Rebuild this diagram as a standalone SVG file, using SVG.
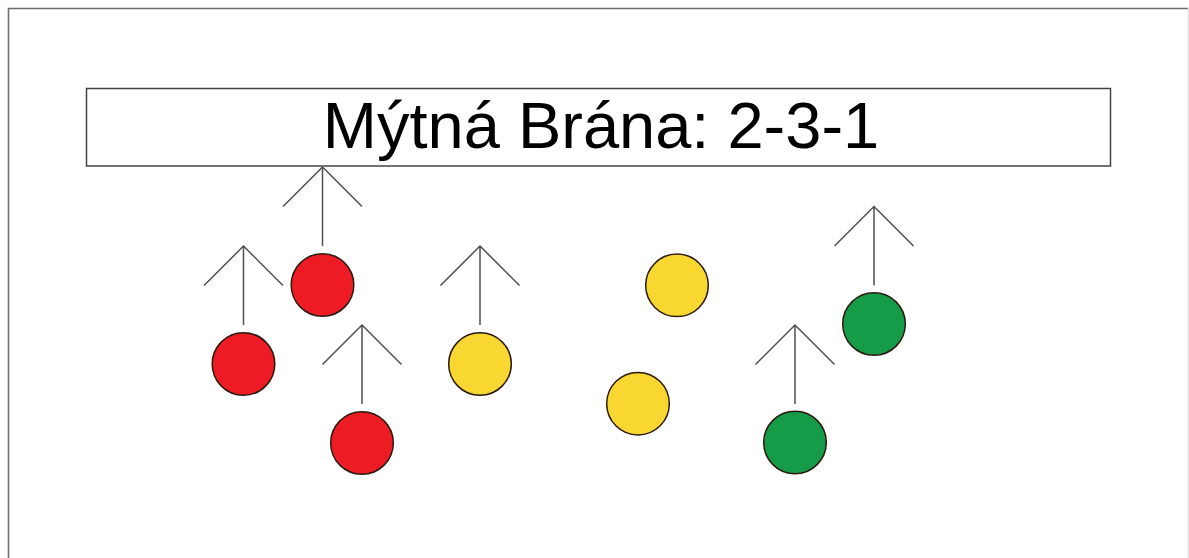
<svg xmlns="http://www.w3.org/2000/svg" width="1189" height="558" viewBox="0 0 1189 558">
<defs>
<style>
.frame{fill:none;stroke:#6e6e6e;stroke-width:1.6}
.title{fill:#fff;stroke:#444;stroke-width:1.5}
.t{font-family:"Liberation Sans",Arial,sans-serif;font-size:65px;fill:#000}
.arr{fill:none;stroke:#505050;stroke-width:1.5}
.c{stroke:#2a1a10;stroke-width:1.5}
.red{fill:#ED1C24}
.yel{fill:#F8D731}
.grn{fill:#169B48}
</style>
<path id="a" class="arr" d="M0,0 V79 M-39.5,39.5 L0,0 L39.5,39.5"/>
</defs>
<rect width="1189" height="558" fill="#fff"/>
<path class="frame" d="M8.5,560 V8.5 H1188"/>
<line x1="1188.3" y1="9" x2="1188.3" y2="558" stroke="#d8d8d8" stroke-width="1"/>
<g id="title">
<rect class="title" x="86.5" y="88.5" width="1024" height="77.5"/>
<text class="t" x="601" y="148" text-anchor="middle">Mýtná Brána: 2-3-1</text>
</g>
<g id="connectors">
<use href="#a" x="322.5" y="167"/>
<use href="#a" x="243.5" y="246"/>
<use href="#a" x="362" y="325"/>
<use href="#a" x="480" y="246"/>
<use href="#a" x="874" y="206.5"/>
<use href="#a" x="795" y="325"/>
</g>
<g id="red1"><circle class="c red" cx="322.5" cy="285" r="31.3"/></g>
<g id="red2"><circle class="c red" cx="243.5" cy="364" r="31.3"/></g>
<g id="red3"><circle class="c red" cx="362" cy="443" r="31.3"/></g>
<g id="yellow1"><circle class="c yel" cx="480" cy="364" r="31.3"/></g>
<g id="yellow2"><circle class="c yel" cx="677" cy="285.3" r="31.3"/></g>
<g id="yellow3"><circle class="c yel" cx="638" cy="403.7" r="31.3"/></g>
<g id="green1"><circle class="c grn" cx="874" cy="324" r="31.3"/></g>
<g id="green2"><circle class="c grn" cx="795" cy="442.5" r="31.3"/></g>
</svg>
